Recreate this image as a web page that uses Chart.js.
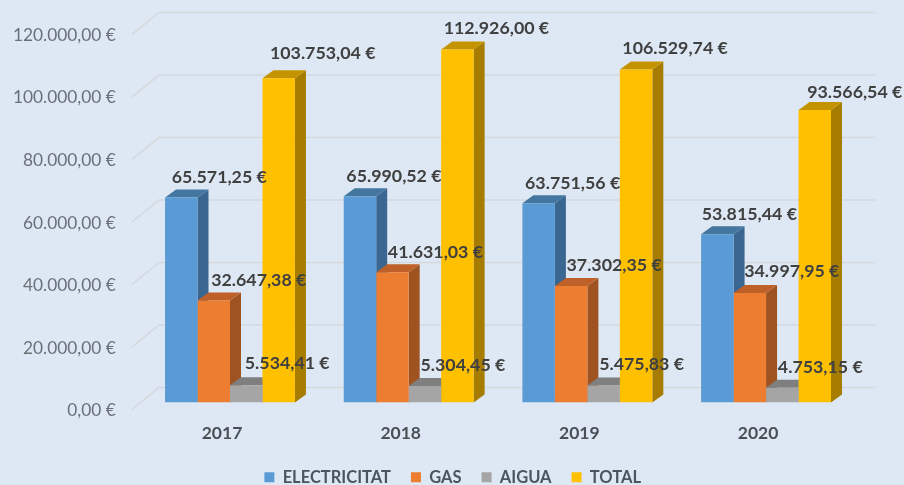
<!DOCTYPE html>
<html>
<head>
<meta charset="utf-8">
<style>
html,body{margin:0;padding:0;background:#DEE8F4;}
#wrap{position:relative;width:904px;height:485px;overflow:hidden;}
canvas{display:block;filter:blur(0.35px);}
</style>
<script src="https://cdn.jsdelivr.net/npm/chart.js@4"></script>
</head>
<body>
<div id="wrap"><canvas id="c" width="904" height="485"></canvas></div>
<script>
const categories = ['2017','2018','2019','2020'];
const electricitat = [65571.25, 65990.52, 63751.56, 53815.44];
const gas = [32647.38, 41631.03, 37302.35, 34997.95];
const aigua = [5534.41, 5304.45, 5475.83, 4753.15];
const total = [103753.04, 112926.00, 106529.74, 93566.54];
const seriesNames = ['ELECTRICITAT','GAS','AIGUA','TOTAL'];
const frontColors = ['#5B9BD5','#ED7D31','#A5A5A5','#FFC000'];
const sideColors = ['#3A6792','#9E5320','#6E6E6E','#A67D00'];
const topColors = ['#44779F','#BE6027','#7F7F7F','#C49400'];
// label offsets from each bar's top centre
const labelDx = [[38,34,34,32],[45,43,43,42],[41,38,38,38],[44,39,39,40]];
const labelDy = [[-20,-20,-20,-20],[-20,-20,-21,-22],[-22,-21,-21,-20],[-25,-21,-21,-18]];
const FONT = 'Lato, Carlito, sans-serif';
const DEPTH_X = 11, DEPTH_Y = 8;

const fmt = v => v.toLocaleString('de-DE',{minimumFractionDigits:2,maximumFractionDigits:2}) + ' €';

const threeD = {
  id:'threeD',
  afterLayout(chart){
    const l = chart.legend;
    l.top = 449;
    l.left += 25;
    l.right += 25;
  },
  beforeDatasetsDraw(chart){
    const ctx = chart.ctx, y = chart.scales.y, a = chart.chartArea;
    ctx.save();
    ctx.strokeStyle = '#D5D8DB';
    ctx.lineWidth = 1.5;
    y.ticks.forEach(t=>{
      const py = y.getPixelForValue(t.value);
      ctx.beginPath();
      ctx.moveTo(a.left-8.6, py+7);
      ctx.lineTo(a.left+18.4, py-15);
      ctx.lineTo(a.right+20, py-15);
      ctx.stroke();
    });
    chart.data.datasets.forEach((ds,i)=>{
      chart.getDatasetMeta(i).data.forEach(b=>{
        const l=b.x-b.width/2, r=b.x+b.width/2, t=b.y, bt=b.base;
        ctx.fillStyle = sideColors[i];
        ctx.beginPath();
        ctx.moveTo(r,t);ctx.lineTo(r+DEPTH_X,t-DEPTH_Y);ctx.lineTo(r+DEPTH_X,bt-DEPTH_Y);ctx.lineTo(r,bt);
        ctx.closePath();ctx.fill();
        ctx.fillStyle = topColors[i];
        ctx.beginPath();
        ctx.moveTo(l,t);ctx.lineTo(l+DEPTH_X,t-DEPTH_Y);ctx.lineTo(r+DEPTH_X,t-DEPTH_Y);ctx.lineTo(r,t);
        ctx.closePath();ctx.fill();
      });
    });
    ctx.restore();
  },
  afterDatasetsDraw(chart){
    const ctx = chart.ctx;
    ctx.save();
    ctx.font = '700 17.8px '+FONT;
    ctx.fillStyle = '#404040';
    ctx.textAlign = 'center';
    ctx.textBaseline = 'middle';
    chart.data.datasets.forEach((ds,i)=>{
      chart.getDatasetMeta(i).data.forEach((b,j)=>{
        ctx.fillText(fmt(ds.data[j]), b.x+labelDx[i][j], b.y+labelDy[i][j]);
      });
    });
    ctx.restore();
  }
};

new Chart(document.getElementById('c'),{
  type:'bar',
  data:{
    labels:categories,
    datasets:[electricitat,gas,aigua,total].map((d,i)=>({
      label:seriesNames[i],
      data:d,
      backgroundColor:frontColors[i],
      borderWidth:0,
      categoryPercentage:0.727,
      barPercentage:1
    }))
  },
  plugins:[threeD],
  options:{
    responsive:false,
    animation:false,
    layout:{padding:{top:27,right:48.6,left:0,bottom:-10}},
    plugins:{
      tooltip:{enabled:false},
      legend:{
        position:'bottom',
        labels:{
          boxWidth:10,boxHeight:10,padding:20,
          color:'#4A5560',
          font:{family:FONT,size:16.5,weight:'700'}
        }
      }
    },
    scales:{
      x:{
        grid:{display:false},
        border:{display:false},
        afterFit(s){s.height=46;},
        ticks:{color:'#4A4F55',padding:12,labelOffset:-8,font:{family:FONT,size:17.5,weight:'700'}}
      },
      y:{
        min:0,max:120000,
        grid:{display:false},
        border:{display:false},
        afterFit(s){s.width=140.65;},
        ticks:{
          stepSize:20000,padding:17,labelOffset:8,
          color:'#6A7078',
          font:{family:FONT,size:17.3},
          callback:v=>fmt(v)
        }
      }
    }
  }
});
</script>
</body>
</html>
